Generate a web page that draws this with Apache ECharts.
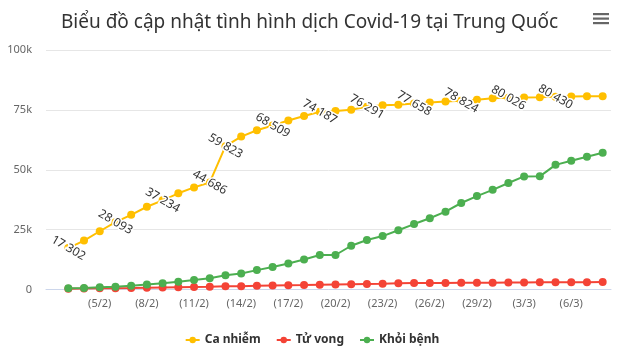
<!DOCTYPE html>
<html>
<head>
<meta charset="utf-8">
<script src="https://cdn.jsdelivr.net/npm/echarts@6/dist/echarts.min.js"></script>
<style>html,body{margin:0;padding:0;background:#fff}#c{width:624px;height:350px}</style>
</head>
<body>
<div id="c"></div>
<script>
var dates = ['3/2','4/2','5/2','6/2','7/2','8/2','9/2','10/2','11/2','12/2','13/2','14/2','15/2','16/2','17/2','18/2','19/2','20/2','21/2','22/2','23/2','24/2','25/2','26/2','27/2','28/2','29/2','1/3','2/3','3/3','4/3','5/3','6/3','7/3','8/3'];
var caNhiem = [17302,20438,24324,28093,31161,34546,37234,40171,42638,44686,59823,63851,66492,68509,70548,72436,74187,74576,75077,76291,76936,77150,77658,78064,78497,78824,79251,79824,80026,80151,80270,80430,80552,80651,80695];
var tuVong = [361,425,490,563,636,722,811,908,1016,1113,1367,1380,1523,1665,1770,1868,2004,2118,2236,2345,2442,2592,2663,2715,2744,2788,2835,2870,2912,2943,2981,3012,3042,3070,3097];
var khoiBenh = [475,632,892,1153,1540,2050,2649,3281,3996,4740,5911,6723,8096,9419,10844,12552,14376,14400,18264,20659,22300,24734,27323,29745,32495,36117,39002,41625,44462,47204,47250,52045,53726,55404,57065];
var labeledIdx = [0,3,6,9,10,13,16,19,22,25,28,31];
var tickIdx = [2,5,8,11,14,17,20,23,26,29,32];
var yTicks = ['0','25k','50k','75k','100k'];

var FONT = '"Noto Sans", "DejaVu Sans", sans-serif';
function fmt(v){ return String(v).replace(/\B(?=(\d{3})+(?!\d))/g, ' '); }
function pts(arr){ return arr.map(function(v,i){ return [i, v]; }); }

var chart = echarts.init(document.getElementById('c'), null, {renderer:'canvas'});
var lineBase = {
  type:'line', symbol:'circle', symbolSize:8, showSymbol:true,
  lineStyle:{width:2}, animation:false, emphasis:{disabled:true}
};
chart.setOption({
  animation:false,
  textStyle:{fontFamily:FONT},
  title:{
    text:'Biểu đồ cập nhật tình hình dịch Covid-19 tại Trung Quốc',
    left:56, top:8,
    textStyle:{fontFamily:FONT, fontSize:19, fontWeight:'normal', color:'#333333'}
  },
  graphic:[
    {type:'rect', left:593, top:13, shape:{width:16, height:2.2}, style:{fill:'#666'}},
    {type:'rect', left:593, top:17.5, shape:{width:16, height:2.2}, style:{fill:'#666'}},
    {type:'rect', left:593, top:22, shape:{width:16, height:2.2}, style:{fill:'#666'}}
  ],
  legend:{
    bottom:-1, left:'center', itemWidth:14, itemHeight:8, itemGap:15,
    textStyle:{fontFamily:FONT, fontSize:12, fontWeight:'bold', color:'#333333'},
    data:['Ca nhiễm','Tử vong','Khỏi bệnh']
  },
  grid:{left:46, right:13, top:50, bottom:60.5, containLabel:false},
  xAxis:{
    type:'value', min:-1.419, max:34.53,
    axisLine:{show:true, lineStyle:{color:'#ccd6eb', width:1}},
    axisTick:{show:false},
    splitLine:{show:false},
    axisLabel:{
      customValues:tickIdx, color:'#666666', fontSize:11, margin:9,
      formatter:function(v){ return '(' + dates[Math.round(v)] + ')'; }
    }
  },
  yAxis:{
    type:'value', min:0, max:100000, interval:25000,
    axisLine:{show:false}, axisTick:{show:false},
    splitLine:{lineStyle:{color:'#e6e6e6', width:1}},
    axisLabel:{
      color:'#666666', fontSize:11, margin:14,
      formatter:function(v){ return yTicks[Math.round(v/25000)]; }
    }
  },
  series:[
    Object.assign({}, lineBase, {
      name:'Ca nhiễm', color:'#FFBF00',
      data: caNhiem.map(function(v,i){
        var d = {value:[i,v]};
        if (labeledIdx.indexOf(i) >= 0) {
          d.label = {show:true, position:'inside', rotate:-30, formatter: fmt(v),
            fontFamily:FONT, fontSize:12, color:'#333333',
            textBorderColor:'#ffffff', textBorderWidth:3};
        }
        return d;
      })
    }),
    Object.assign({}, lineBase, {name:'Tử vong', color:'#F44336', data:pts(tuVong)}),
    Object.assign({}, lineBase, {name:'Khỏi bệnh', color:'#4CAF50', data:pts(khoiBenh)})
  ]
});
</script>
</body>
</html>
